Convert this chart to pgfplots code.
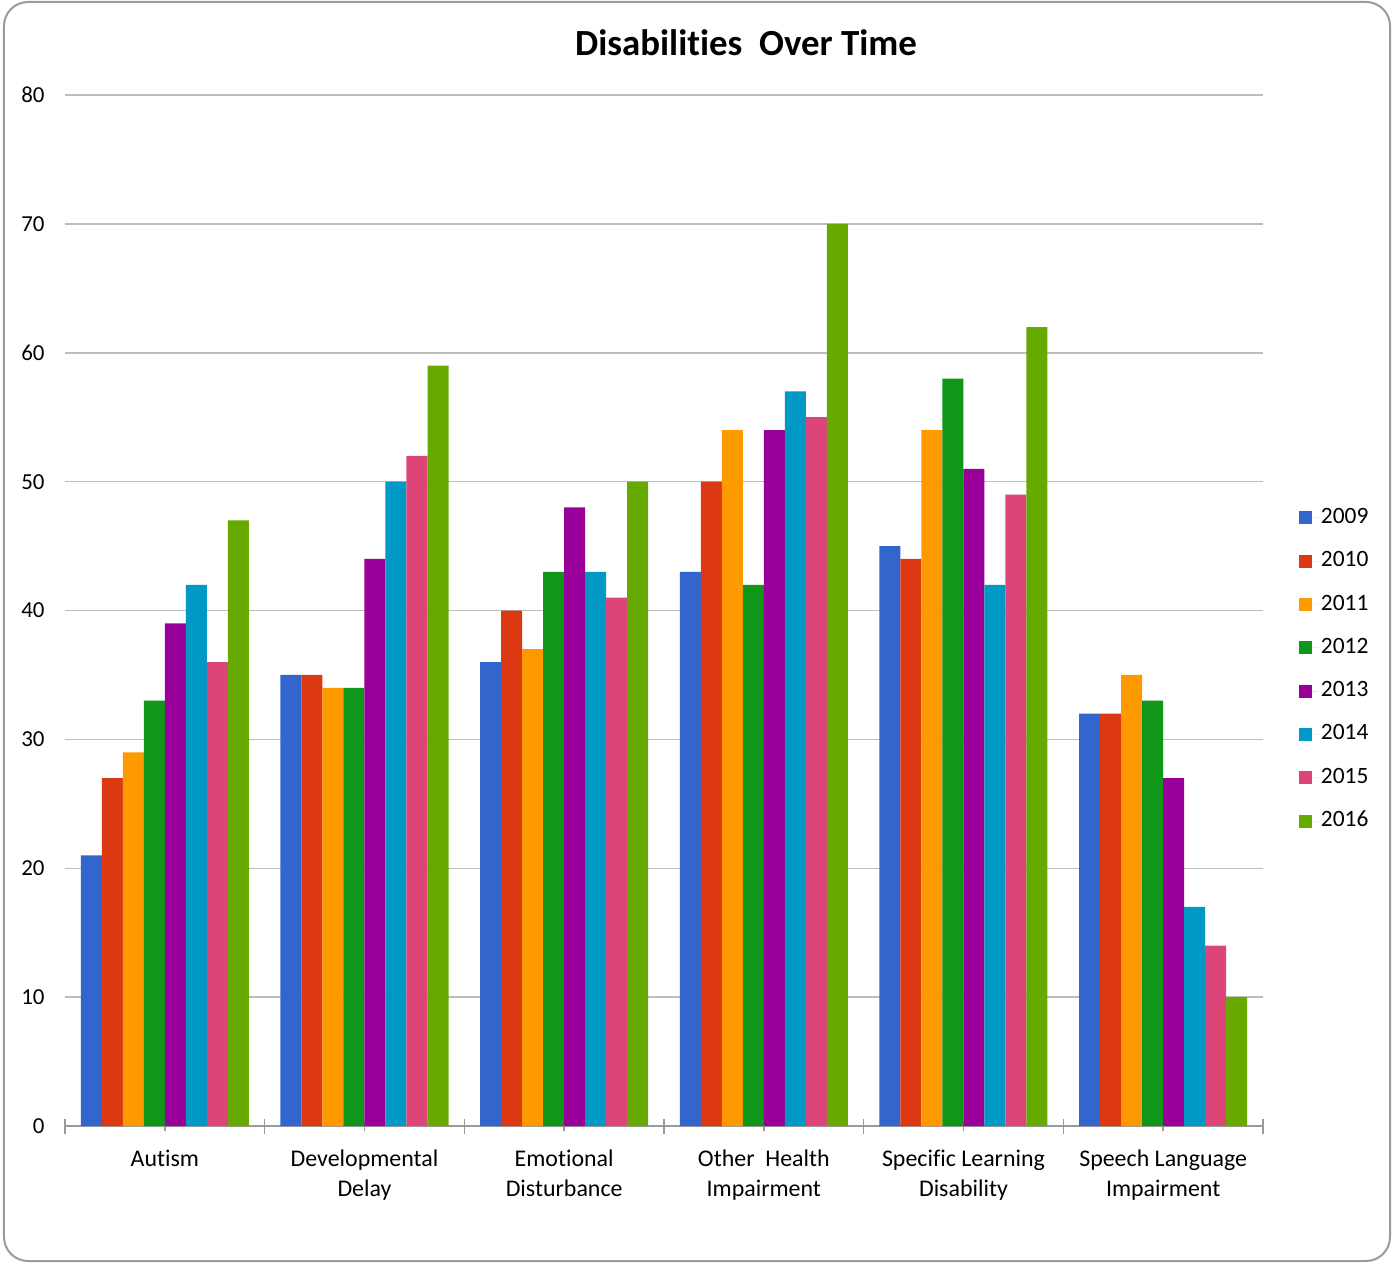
\documentclass[border=0pt]{standalone}
\usepackage{fontspec}
\setmainfont{Carlito}[Ligatures=CommonOff]
\usepackage{pgfplots}
\pgfplotsset{compat=1.18}

\definecolor{c09}{HTML}{3366CC}
\definecolor{c10}{HTML}{DC3912}
\definecolor{c11}{HTML}{FF9900}
\definecolor{c12}{HTML}{109618}
\definecolor{c13}{HTML}{990099}
\definecolor{c14}{HTML}{0099C6}
\definecolor{c15}{HTML}{DD4477}
\definecolor{c16}{HTML}{66AA00}
\definecolor{gridgray}{HTML}{BEBEBE}
\definecolor{axisgray}{HTML}{9A9A9A}

\begin{document}
\begin{tikzpicture}[x=1bp,y=1bp]
\useasboundingbox (-65,-137) rectangle (1327,1126);
\draw[axisgray, line width=2bp, rounded corners=24bp] (-61,-135) rectangle (1325,1124);
\node[font=\fontsize{37}{40}\selectfont\bfseries] at (681,1083) {Disabilities\ \ Over Time};
\begin{axis}[
  at={(0,0)}, anchor=south west,
  scale only axis, width=1198bp, height=1031bp,
  ybar=0pt, bar width=21bp,
  xmin=-0.5, xmax=5.5, ymin=0, ymax=80,
  ytick={0,10,...,80},
  /pgf/number format/assume math mode=true,
  ymajorgrids, grid style={gridgray, line width=1.5bp},
  axis x line*=bottom, axis y line*=left,
  y axis line style={draw=none},
  x axis line style={axisgray, line width=2bp, -},
  ytick style={draw=none},
  yticklabel style={font=\fontsize{23}{26}\selectfont, xshift=-17bp},
  xtick={0,...,5},
  xticklabels={Autism, Developmental\\Delay, Emotional\\Disturbance, Other~~Health\\Impairment, Specific Learning\\Disability, Speech Language\\Impairment},
  xticklabel style={font=\fontsize{24}{30}\selectfont, align=center, yshift=-16bp},
  xtick style={axisgray, line width=1.5bp},
  xtick align=center, major tick length=9bp,
  extra x ticks={-0.5,0.5,...,5.5},
  extra x tick labels={},
  extra x tick style={major tick length=15bp, xtick align=center},
  legend style={at={(1.0278,0.4428)}, anchor=west, draw=none, fill=none,
    font=\fontsize{23.5}{26}\selectfont, row sep=17.3bp,
    nodes={inner sep=2.5bp, text height=16bp, text depth=5bp}},
  legend cell align=left,
  legend image code/.code={\fill[#1] (0bp,-6.5bp) rectangle (13bp,6.5bp);
    \path (0bp,0bp) -- (19bp,0bp);},
]
\addplot[fill=c09, draw=none] coordinates {(0,21) (1,35) (2,36) (3,43) (4,45) (5,32)};
\addplot[fill=c10, draw=none] coordinates {(0,27) (1,35) (2,40) (3,50) (4,44) (5,32)};
\addplot[fill=c11, draw=none] coordinates {(0,29) (1,34) (2,37) (3,54) (4,54) (5,35)};
\addplot[fill=c12, draw=none] coordinates {(0,33) (1,34) (2,43) (3,42) (4,58) (5,33)};
\addplot[fill=c13, draw=none] coordinates {(0,39) (1,44) (2,48) (3,54) (4,51) (5,27)};
\addplot[fill=c14, draw=none] coordinates {(0,42) (1,50) (2,43) (3,57) (4,42) (5,17)};
\addplot[fill=c15, draw=none] coordinates {(0,36) (1,52) (2,41) (3,55) (4,49) (5,14)};
\addplot[fill=c16, draw=none] coordinates {(0,47) (1,59) (2,50) (3,70) (4,62) (5,10)};
\legend{2009,2010,2011,2012,2013,2014,2015,2016}
\end{axis}
\end{tikzpicture}
\end{document}
